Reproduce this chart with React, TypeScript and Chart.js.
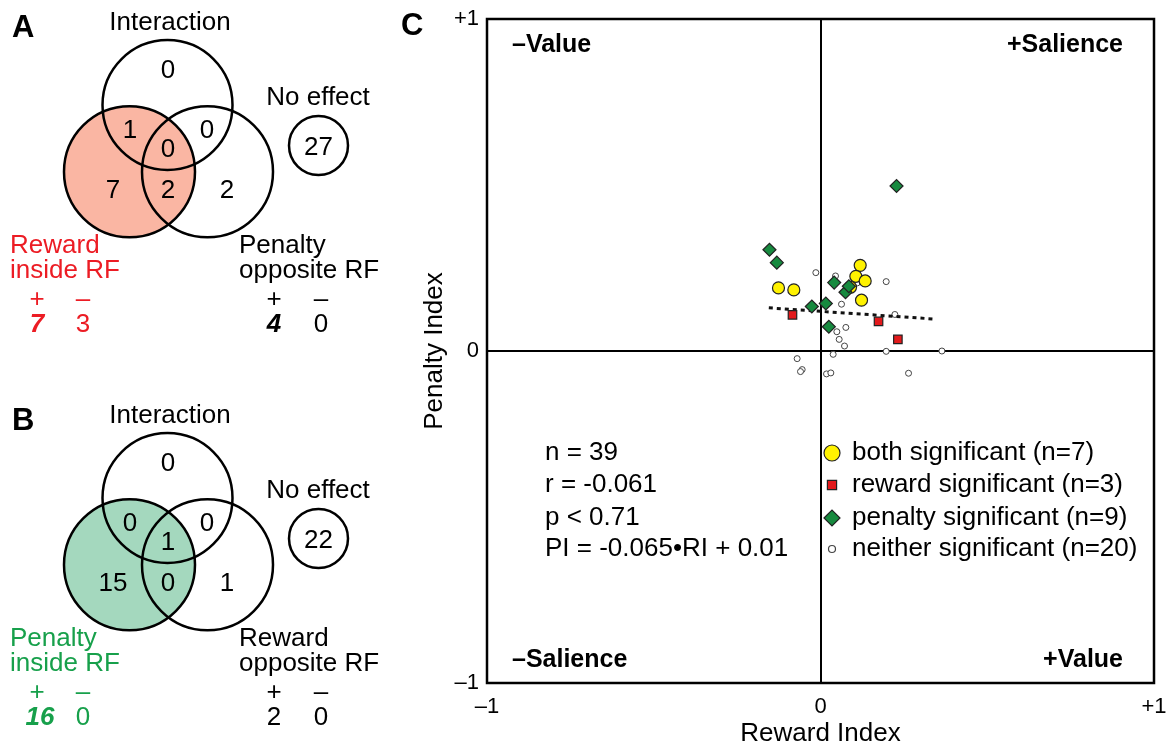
import React, { useEffect, useRef } from "react";
import { Chart, registerables } from "chart.js";

Chart.register(...registerables);

const FONT = "'Liberation Sans', Arial, Helvetica, sans-serif";

// ---------------- Panel C data (Reward Index, Penalty Index) ----------------
const bothSignificant = [
  { x: 0.119, y: 0.258 }, { x: 0.106, y: 0.225 }, { x: 0.134, y: 0.211 },
  { x: 0.09, y: 0.192 }, { x: 0.123, y: 0.153 }, { x: -0.126, y: 0.19 },
  { x: -0.08, y: 0.184 },
];
const rewardSignificant = [
  { x: -0.084, y: 0.109 }, { x: 0.174, y: 0.089 }, { x: 0.232, y: 0.035 },
];
const penaltySignificant = [
  { x: 0.228, y: 0.497 }, { x: -0.153, y: 0.305 }, { x: -0.131, y: 0.266 },
  { x: 0.041, y: 0.206 }, { x: 0.075, y: 0.177 }, { x: 0.085, y: 0.195 },
  { x: -0.026, y: 0.134 }, { x: 0.016, y: 0.143 }, { x: 0.025, y: 0.073 },
];
const neitherSignificant = [
  { x: -0.014, y: 0.236 }, { x: 0.045, y: 0.226 }, { x: 0.197, y: 0.209 },
  { x: 0.063, y: 0.141 }, { x: 0.223, y: 0.11 }, { x: 0.076, y: 0.071 },
  { x: 0.049, y: 0.058 }, { x: 0.056, y: 0.035 }, { x: 0.072, y: 0.015 },
  { x: 0.038, y: -0.01 }, { x: 0.197, y: -0.001 }, { x: 0.364, y: 0.0 },
  { x: -0.07, y: -0.023 }, { x: -0.055, y: -0.056 }, { x: -0.06, y: -0.062 },
  { x: 0.018, y: -0.069 }, { x: 0.031, y: -0.066 }, { x: 0.264, y: -0.067 },
  { x: 0.11, y: 0.205 }, { x: 0.012, y: 0.14 },
];
const trendX = [-0.155, 0.345];
const trendY = [0.13, 0.096];
const axisTickLabels = ["–1", "0", "+1"];
const legendLabels = [
  "both significant (n=7)",
  "reward significant (n=3)",
  "penalty significant (n=9)",
  "neither significant (n=20)",
];
const statsLines = ["n = 39", "r = -0.061", "p < 0.71", "PI = -0.065•RI + 0.01"];
const quadrantLabels = ["–Value", "+Salience", "–Salience", "+Value"];

// ---------------- Panels A / B data ----------------
// region order: interaction only, interaction∩left, interaction∩right, all three,
// left only, left∩right, right only
const vennACounts = [0, 1, 0, 0, 7, 2, 2];
const vennBCounts = [0, 0, 0, 1, 15, 0, 1];
const vennANoEffect = 27;
const vennBNoEffect = 22;
const vennALeftLabel = ["Reward", "inside RF"];
const vennARightLabel = ["Penalty", "opposite RF"];
const vennBLeftLabel = ["Penalty", "inside RF"];
const vennBRightLabel = ["Reward", "opposite RF"];
const vennASignCounts = [7, 3, 4, 0];
const vennBSignCounts = [16, 0, 2, 0];
const vennASignBold = [true, false, true, false];
const vennBSignBold = [true, false, false, false];

// layout (pixels within a panel)
const circleTop = [167.5, 105, 65];
const circleLeft = [129.5, 171.7, 65.5];
const circleRight = [207.5, 171.7, 65.5];
const circleNoEffect = [318.5, 145.5, 29.5];
const regionPos = [
  [168, 77.5], [130, 138], [207, 138], [168, 157], [113, 198], [168, 198], [227, 198],
];
const PANEL_B_OFFSET = 393;

const RED_TEXT = "#ec1c24";
const GREEN_TEXT = "#17a04b";
const FILL_A = "#fab6a3";
const FILL_B = "#a4d8be";

function VennPanels() {
  const ref = useRef<HTMLCanvasElement>(null);
  useEffect(() => {
    const canvas = ref.current!;
    const panels = [
      {
        letter: "A", dy: 0, fill: FILL_A, color: RED_TEXT, counts: vennACounts,
        noEffect: vennANoEffect, left: vennALeftLabel, right: vennARightLabel,
        signs: vennASignCounts, bold: vennASignBold,
      },
      {
        letter: "B", dy: PANEL_B_OFFSET, fill: FILL_B, color: GREEN_TEXT, counts: vennBCounts,
        noEffect: vennBNoEffect, left: vennBLeftLabel, right: vennBRightLabel,
        signs: vennBSignCounts, bold: vennBSignBold,
      },
    ];
    const bub = (c: number[], dy: number) => ({ x: c[0], y: c[1] + dy, r: c[2] });
    const outlines: any[] = [];
    const fills: any[] = [];
    const fillColors: string[] = [];
    panels.forEach((p) => {
      fills.push(bub(circleLeft, p.dy));
      fillColors.push(p.fill);
      outlines.push(bub(circleTop, p.dy), bub(circleLeft, p.dy), bub(circleRight, p.dy), bub(circleNoEffect, p.dy));
    });

    const textPlugin = {
      id: "vennText",
      afterDraw(chart: any) {
        const ctx = chart.ctx;
        const xs = chart.scales.x;
        const ys = chart.scales.y;
        const X = (v: number) => xs.getPixelForValue(v);
        const Y = (v: number) => ys.getPixelForValue(v);
        const t = (s: string, x: number, y: number, font: string, color: string, align: any = "center", base: any = "alphabetic") => {
          ctx.save();
          ctx.font = font;
          ctx.fillStyle = color;
          ctx.textAlign = align;
          ctx.textBaseline = base;
          ctx.fillText(s, X(x), Y(y));
          ctx.restore();
        };
        const reg = `26px ${FONT}`;
        panels.forEach((p) => {
          const d = p.dy;
          t(p.letter, 12, 28 + d, `bold 31px ${FONT}`, "#000", "left", "middle");
          t("Interaction", 170, 30 + d, reg, "#000");
          p.counts.forEach((c, i) => t(String(c), regionPos[i][0], regionPos[i][1] + d, reg, "#000"));
          t("No effect", 318, 105 + d, reg, "#000");
          t(String(p.noEffect), circleNoEffect[0], 155 + d, reg, "#000");
          t(p.left[0], 10, 253 + d, reg, p.color, "left");
          t(p.left[1], 10, 278 + d, reg, p.color, "left");
          t(p.right[0], 239, 253 + d, reg, "#000", "left");
          t(p.right[1], 239, 278 + d, reg, "#000", "left");
          const sx = [37, 83, 274, 321];
          sx.forEach((x, i) => {
            const col = i < 2 ? p.color : "#000";
            t(i % 2 === 0 ? "+" : "–", x, 300 + d, reg, col, "center", "middle");
            const f = p.bold[i] ? `italic bold 26px ${FONT}` : reg;
            t(String(p.signs[i]), x + (p.signs[i] >= 10 ? 3 : 0), 332 + d, f, col);
          });
        });
      },
    };

    const chart = new Chart(canvas, {
      type: "bubble",
      data: {
        datasets: [
          {
            data: outlines,
            backgroundColor: "rgba(0,0,0,0)",
            borderColor: "#000",
            borderWidth: 2.5,
            order: 0,
            clip: false,
          } as any,
          {
            data: fills,
            backgroundColor: fillColors,
            borderWidth: 0,
            order: 1,
            clip: false,
          } as any,
        ],
      },
      options: {
        responsive: false,
        animation: false,
        events: [],
        layout: { padding: 0, autoPadding: false },
        plugins: { legend: { display: false }, tooltip: { enabled: false } },
        scales: {
          x: { type: "linear", min: 0, max: 400, display: false },
          y: { type: "linear", min: 0, max: 749, reverse: true, display: false },
        },
      },
      plugins: [textPlugin],
    });
    return () => chart.destroy();
  }, []);
  return <canvas ref={ref} width={400} height={749} style={{ position: "absolute", left: 0, top: 0 }} />;
}

function ScatterPanel() {
  const ref = useRef<HTMLCanvasElement>(null);
  useEffect(() => {
    const canvas = ref.current!;
    const markers = [
      { style: "circle", bg: "#fff200", border: "#222", r: 8 },
      { style: "rect", bg: "#e31a1c", border: "#222", r: 6.5 },
      { style: "diamond", bg: "#178a3f", border: "#222", r: 8 },
      { style: "circle", bg: "#ffffff", border: "#444", r: 3.5 },
    ];

    const drawMarker = (ctx: any, m: any, x: number, y: number) => {
      ctx.save();
      ctx.fillStyle = m.bg;
      ctx.strokeStyle = m.border;
      ctx.lineWidth = 1.2;
      ctx.beginPath();
      if (m.style === "circle") ctx.arc(x, y, m.r, 0, Math.PI * 2);
      else if (m.style === "rect") {
        const s = m.r * Math.SQRT1_2;
        ctx.rect(x - s, y - s, 2 * s, 2 * s);
      } else {
        ctx.moveTo(x - m.r, y);
        ctx.lineTo(x, y - m.r);
        ctx.lineTo(x + m.r, y);
        ctx.lineTo(x, y + m.r);
        ctx.closePath();
      }
      ctx.fill();
      ctx.stroke();
      ctx.restore();
    };

    const overlay = {
      id: "overlay",
      beforeDatasetsDraw(chart: any) {
        const { ctx, chartArea: a } = chart;
        ctx.save();
        ctx.strokeStyle = "#000";
        ctx.lineWidth = 2.5;
        ctx.strokeRect(a.left, a.top, a.right - a.left, a.bottom - a.top);
        ctx.restore();
      },
      afterDraw(chart: any) {
        const { ctx, chartArea: a } = chart;
        ctx.save();
        ctx.fillStyle = "#000";
        ctx.textBaseline = "middle";
        ctx.font = `bold 31px ${FONT}`;
        ctx.textAlign = "left";
        ctx.fillText("C", 1, 26);

        ctx.font = `bold 25px ${FONT}`;
        ctx.textAlign = "left";
        ctx.fillText(quadrantLabels[0], a.left + 25, a.top + 26);
        ctx.fillText(quadrantLabels[2], a.left + 25, a.bottom - 23);
        ctx.textAlign = "right";
        ctx.fillText(quadrantLabels[1], a.right - 31, a.top + 26);
        ctx.fillText(quadrantLabels[3], a.right - 31, a.bottom - 23);

        ctx.font = `26px ${FONT}`;
        ctx.textAlign = "left";
        const rows = [434, 466, 499, 530];
        statsLines.forEach((s, i) => ctx.fillText(s, a.left + 58, a.top + rows[i]));
        legendLabels.forEach((s, i) => {
          drawMarker(ctx, markers[i], a.left + 345, a.top + rows[i]);
          ctx.fillStyle = "#000";
          ctx.fillText(s, a.left + 365, a.top + rows[i]);
        });
        ctx.restore();
      },
    };

    const chart = new Chart(canvas, {
      type: "scatter",
      data: {
        datasets: [
          {
            label: legendLabels[0], data: bothSignificant, pointStyle: "circle", pointRadius: 6,
            backgroundColor: markers[0].bg, borderColor: markers[0].border, borderWidth: 1.2, order: 2,
          },
          {
            label: legendLabels[1], data: rewardSignificant, pointStyle: "rect", pointRadius: 6,
            backgroundColor: markers[1].bg, borderColor: markers[1].border, borderWidth: 1.2, order: 1,
          },
          {
            label: legendLabels[2], data: penaltySignificant, pointStyle: "rectRot", pointRadius: 6.5,
            backgroundColor: markers[2].bg, borderColor: markers[2].border, borderWidth: 1.2, order: 0,
          },
          {
            label: legendLabels[3], data: neitherSignificant, pointStyle: "circle", pointRadius: 3,
            backgroundColor: markers[3].bg, borderColor: markers[3].border, borderWidth: 1, order: 4,
          },
          {
            type: "line", label: "fit",
            data: trendX.map((x, i) => ({ x, y: trendY[i] })),
            borderColor: "#111", borderWidth: 3, borderDash: [4, 4], pointRadius: 0,
            fill: false, order: 3,
          } as any,
        ],
      },
      options: {
        responsive: false,
        animation: false,
        events: [],
        layout: { padding: { left: 0, right: 16, top: 19, bottom: 0 } },
        plugins: { legend: { display: false }, tooltip: { enabled: false } },
        scales: {
          x: {
            type: "linear", min: -1, max: 1,
            ticks: {
              stepSize: 1, color: "#000", padding: 11, font: { size: 22, family: FONT },
              callback: (v: any) => axisTickLabels[Math.round(Number(v)) + 1],
            },
            grid: {
              drawTicks: false, lineWidth: 2,
              color: (c: any) => (c.tick && c.tick.value === 0 ? "#000" : "rgba(0,0,0,0)"),
            },
            border: { display: false },
            title: {
              display: true, text: "Reward Index", color: "#000",
              font: { size: 26, family: FONT }, padding: { top: 0, bottom: 0 },
            },
            afterFit: (s: any) => { s.height = 66; s.paddingLeft = 0; s.paddingRight = 0; },
          },
          y: {
            type: "linear", min: -1, max: 1,
            ticks: {
              stepSize: 1, color: "#000", padding: 8, font: { size: 22, family: FONT },
              callback: (v: any) => axisTickLabels[Math.round(Number(v)) + 1],
            },
            grid: {
              drawTicks: false, lineWidth: 2,
              color: (c: any) => (c.tick && c.tick.value === 0 ? "#000" : "rgba(0,0,0,0)"),
            },
            border: { display: false },
            title: {
              display: true, text: "Penalty Index", color: "#000",
              font: { size: 26, family: FONT }, padding: { top: 19, bottom: 0 },
            },
            afterFit: (s: any) => { s.width = 87; s.paddingTop = 0; s.paddingBottom = 0; },
          },
        },
      },
      plugins: [overlay],
    });
    return () => chart.destroy();
  }, []);
  return <canvas ref={ref} width={770} height={749} style={{ position: "absolute", left: 400, top: 0 }} />;
}

export default function App() {
  return (
    <div style={{ position: "fixed", left: 0, top: 0, width: 1170, height: 749, background: "#fff", overflow: "hidden" }}>
      <VennPanels />
      <ScatterPanel />
    </div>
  );
}
